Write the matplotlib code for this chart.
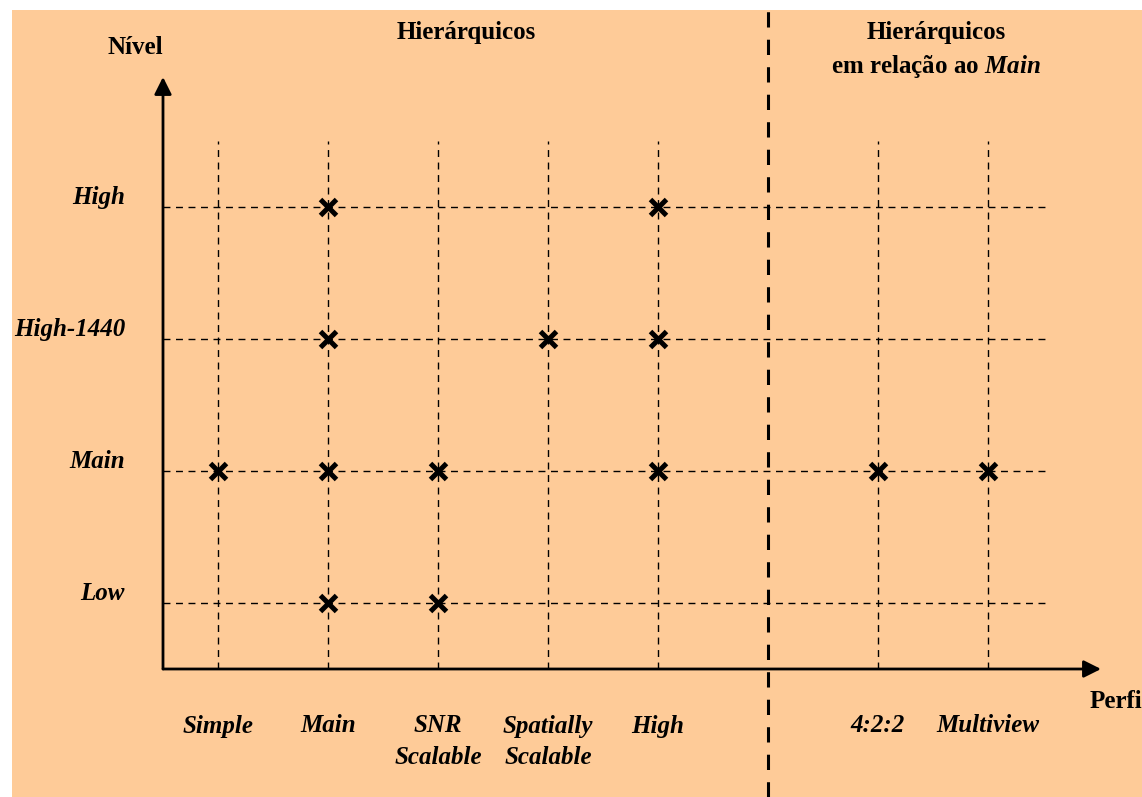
"""MPEG-2 profiles vs levels diagram."""
import matplotlib.pyplot as plt
from matplotlib.patches import Rectangle

plt.rcParams['font.family'] = ['Liberation Serif', 'DejaVu Serif']
plt.rcParams['mathtext.fontset'] = 'custom'
plt.rcParams['mathtext.it'] = 'Liberation Serif:italic:bold'
plt.rcParams['mathtext.rm'] = 'Liberation Serif:bold'

BG = '#FECB98'

# data
profiles = ['Simple', 'Main', 'SNR\nScalable', 'Spatially\nScalable', 'High',
            '4:2:2', 'Multiview']
profile_pos = [1, 2, 3, 4, 5, 7, 8]
levels = ['Low', 'Main', 'High-1440', 'High']
level_pos = [1, 2, 3, 4]
# which profiles exist at each level
supported = {
    'High': ['Main', 'High'],
    'High-1440': ['Main', 'Spatially\nScalable', 'High'],
    'Main': ['Simple', 'Main', 'SNR\nScalable', 'High', '4:2:2', 'Multiview'],
    'Low': ['Main', 'SNR\nScalable'],
}
separator = 6

W, H = 1142, 797


def px(x):
    # pixel column -> profile index
    return (x - 218) / 110 + 1


def py(y):
    # pixel row -> level index
    return (603 - y) / 132 + 1


fig = plt.figure(figsize=(W / 100, H / 100), dpi=100, facecolor='white')
ax = fig.add_axes([0, 0, 1, 1])
ax.set_xlim(px(0), px(W))
ax.set_ylim(py(H), py(0))
ax.axis('off')
ax.add_patch(Rectangle((12 / W, 0), 1, (H - 10) / H, transform=ax.transAxes,
                       facecolor=BG, edgecolor='none', zorder=0))

x0, y0 = 0.5, 0.5

# grid of dashed guides
for x in profile_pos:
    ax.plot([x, x], [y0, 4.5], color='k', lw=1.0, ls=(0, (5, 4)), zorder=1)
for y in level_pos:
    ax.plot([x0, 8.52], [y, y], color='k', lw=1.0, ls=(0, (5, 4)), zorder=1)

# separator between the two groups
ax.plot([separator, separator], [py(H), py(10)], color='k', lw=2.2,
        ls=(0, (5, 4)), zorder=1)

# axes with arrows
arrow = dict(arrowstyle='-|>', lw=2.0, color='k', mutation_scale=26, shrinkA=0, shrinkB=0)
ax.annotate('', xy=(x0, py(77)), xytext=(x0, y0), arrowprops=arrow, zorder=3)
ax.annotate('', xy=(px(1101), y0), xytext=(x0, y0), arrowprops=arrow, zorder=3)

# markers
for lvl, ypos in zip(levels, level_pos):
    xs = [profile_pos[profiles.index(p)] for p in supported[lvl]]
    ax.plot(xs, [ypos] * len(xs), ls='none', marker='x', ms=11, mew=3.6,
            color='k', zorder=4)

fs = 18
for lvl, ypos in zip(levels, level_pos):
    ax.text(px(125), ypos + 0.075, lvl, ha='right', va='center', fontsize=fs,
            fontweight='bold', style='italic')

for name, xpos in zip(profiles, profile_pos):
    for k, line in enumerate(name.split('\n')):
        ax.text(xpos, py(726 + 32 * k), line, ha='center', va='center',
                fontsize=fs, fontweight='bold', style='italic')

ax.text(px(135), py(47), 'Nível', ha='center', va='center', fontsize=fs,
        fontweight='bold')
ax.text(px(1090), py(701), 'Perfil', ha='left', va='center', fontsize=fs,
        fontweight='bold')
ax.text(px(466), py(33), 'Hierárquicos', ha='center', va='center', fontsize=fs,
        fontweight='bold')
ax.text(px(936), py(33), 'Hierárquicos', ha='center', va='center', fontsize=fs,
        fontweight='bold')
ax.text(px(936), py(67), r'em relação ao $Main$', ha='center', va='center',
        fontsize=fs, fontweight='bold')

fig.savefig('out.png', dpi=100)
